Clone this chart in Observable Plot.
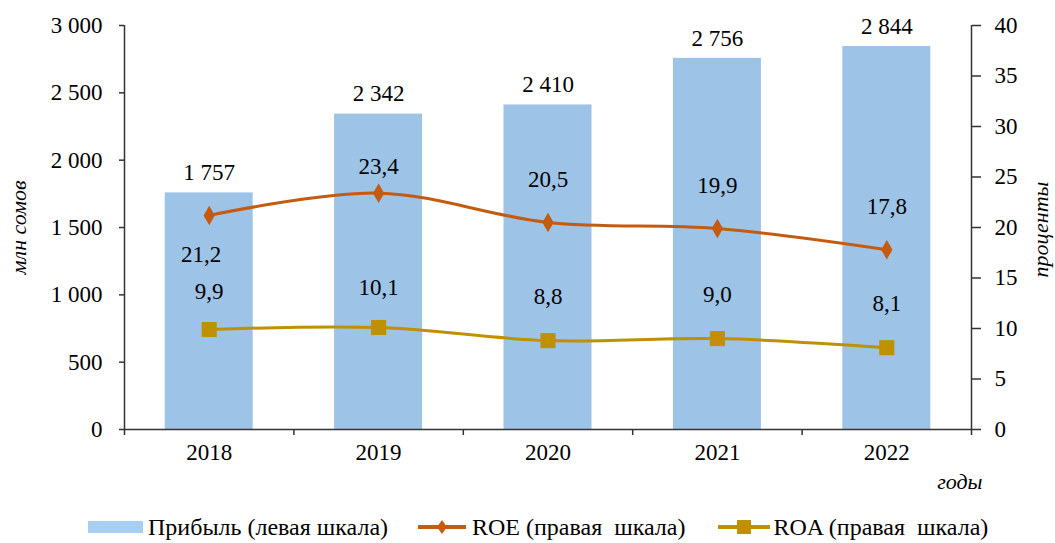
<!DOCTYPE html>
<html>
<head>
<meta charset="utf-8">
<script src="https://cdn.jsdelivr.net/npm/d3@7"></script>
<script src="https://cdn.jsdelivr.net/npm/@observablehq/plot@0.6"></script>
<style>
  html, body { margin: 0; padding: 0; background: #fff; }
  body { width: 1055px; height: 543px; overflow: hidden; font-family: 'Liberation Serif', serif; }
  #legend { height: 44px; display: flex; align-items: center; padding-left: 88px; font-size: 24px; color: #000; }
  #legend .item { display: flex; align-items: center; }
  #legend span { white-space: pre; }
</style>
</head>
<body>
<div id="chart"></div>
<div id="legend"></div>
<script>
// ---- data ----
const years = [2018, 2019, 2020, 2021, 2022];
const profit = [1757, 2342, 2410, 2756, 2844];      // млн сомов (левая шкала)
const roe = [21.2, 23.4, 20.5, 19.9, 17.8];         // % (правая шкала)
const roa = [9.9, 10.1, 8.8, 9.0, 8.1];             // % (правая шкала)
const leftTicks = [0, 500, 1000, 1500, 2000, 2500, 3000];
const rightTicks = [0, 5, 10, 15, 20, 25, 30, 35, 40];
const leftMax = 3000, rightMax = 40;
const seriesNames = ["Прибыль (левая шкала)", "ROE (правая  шкала)", "ROA (правая  шкала)"];

const colors = { bar: "#9DC3E6", roe: "#C55A11", roa: "#BF9000" };
const k = leftMax / rightMax;   // right scale -> left scale units

const loc = d3.formatLocale({ decimal: ",", thousands: " ", grouping: [3], currency: ["", ""] });
const fInt = loc.format(",");
const fPct = loc.format(".1f");

const rows = years.map((y, i) => ({ year: y, profit: profit[i], roe: roe[i], roa: roa[i] }));
const boundaries = years.map(y => y - 0.5).concat([years[years.length - 1] + 0.5]);

const font = "Liberation Serif";
const fs = 23;

const chart = Plot.plot({
  width: 1055,
  height: 505,
  marginTop: 25,
  marginBottom: 76,
  marginLeft: 124,
  marginRight: 84,
  style: { fontFamily: font, fontSize: fs + "px", color: "#000", background: "#fff" },
  x: { type: "linear", domain: [boundaries[0], boundaries[boundaries.length - 1]] },
  y: { domain: [0, leftMax] },
  marks: [
    Plot.rectY(rows, { x1: d => d.year - 0.5, x2: d => d.year + 0.5, y: "profit", insetLeft: 40.7, insetRight: 40.7, fill: colors.bar }),
    Plot.ruleY([0], { stroke: "#333", strokeWidth: 1.5 }),
    Plot.ruleX([boundaries[0], boundaries[boundaries.length - 1]], { stroke: "#333", strokeWidth: 1.5 }),
    Plot.axisY({ ticks: leftTicks, tickFormat: fInt, tickSize: 5, tickPadding: 17, fontSize: fs, stroke: "#333", strokeWidth: 1.5, label: null }),
    Plot.axisY({ anchor: "right", ticks: rightTicks.map(v => v * k), tickFormat: v => fInt(Math.round(v / k)), tickSize: 9, tickPadding: 14, fontSize: fs, stroke: "#333", strokeWidth: 1.5, label: null }),
    Plot.axisX({ ticks: boundaries, tickFormat: () => "", tickSize: 6, stroke: "#333", strokeWidth: 1.5, label: null }),
    Plot.axisX({ ticks: years, tickFormat: d => String(d), tickSize: 0, tickPadding: 14, fontSize: fs, label: null }),
    Plot.text(["млн сомов"], { frameAnchor: "left", textAnchor: "middle", text: d => d, rotate: -90, dx: -106, fontStyle: "italic", fontSize: 22 }),
    Plot.text(["проценты"], { frameAnchor: "right", textAnchor: "middle", text: d => d, rotate: -90, dx: 69, dy: 2, fontStyle: "italic", fontSize: 22 }),
    Plot.text(["годы"], { frameAnchor: "bottom-right", textAnchor: "end", text: d => d, dx: 11, dy: 59, fontStyle: "italic", fontSize: 22 }),
    Plot.text(rows, { x: "year", y: "profit", text: d => fInt(d.profit), dy: -20, fontSize: fs }),
    Plot.line(rows, { x: "year", y: d => d.roe * k, stroke: colors.roe, strokeWidth: 3, curve: "catmull-rom" }),
    Plot.dot(rows, { x: "year", y: d => d.roe * k, symbol: "diamond", r: 5, fill: colors.roe, stroke: colors.roe }),
    Plot.line(rows, { x: "year", y: d => d.roa * k, stroke: colors.roa, strokeWidth: 3, curve: "catmull-rom" }),
    Plot.dot(rows, { x: "year", y: d => d.roa * k, symbol: "square", r: 8.5, fill: colors.roa }),
    Plot.text(rows.filter(d => d.year === years[0]), { x: "year", y: d => d.roe * k, text: d => fPct(d.roe), dx: -8, dy: 39, fontSize: fs }),
    Plot.text(rows.filter(d => d.year === years[1]), { x: "year", y: d => d.roe * k, text: d => fPct(d.roe), dy: -27, fontSize: fs }),
    Plot.text(rows.filter(d => d.year > years[1]), { x: "year", y: d => d.roe * k, text: d => fPct(d.roe), dy: -43, fontSize: fs }),
    Plot.text(rows.filter(d => d.year === years[0]), { x: "year", y: d => d.roa * k, text: d => fPct(d.roa), dy: -38, fontSize: fs }),
    Plot.text(rows.filter(d => d.year === years[1]), { x: "year", y: d => d.roa * k, text: d => fPct(d.roa), dy: -40, fontSize: fs }),
    Plot.text(rows.filter(d => d.year > years[1]), { x: "year", y: d => d.roa * k, text: d => fPct(d.roa), dy: -44, fontSize: fs })
  ]
});
document.getElementById("chart").appendChild(chart);

// legend
const legend = document.getElementById("legend");
const swatches = [
  `<svg width="55" height="20" style="margin-right:5px"><rect x="0" y="4" width="55" height="12" fill="#A6CFF2"/></svg>`,
  `<svg width="48" height="20" style="margin-left:30px;margin-right:6px"><line x1="0" y1="10" x2="48" y2="10" stroke="${colors.roe}" stroke-width="4"/><path d="M24,3 L29,10 L24,17 L19,10 Z" fill="${colors.roe}"/></svg>`,
  `<svg width="52" height="20" style="margin-left:32px;margin-right:4px"><line x1="0" y1="10" x2="52" y2="10" stroke="${colors.roa}" stroke-width="4"/><rect x="19" y="3" width="14" height="14" fill="${colors.roa}"/></svg>`
];
seriesNames.forEach((name, i) => {
  const it = document.createElement("div");
  it.className = "item";
  it.innerHTML = swatches[i] + `<span>${name}</span>`;
  legend.appendChild(it);
});
</script>
</body>
</html>
